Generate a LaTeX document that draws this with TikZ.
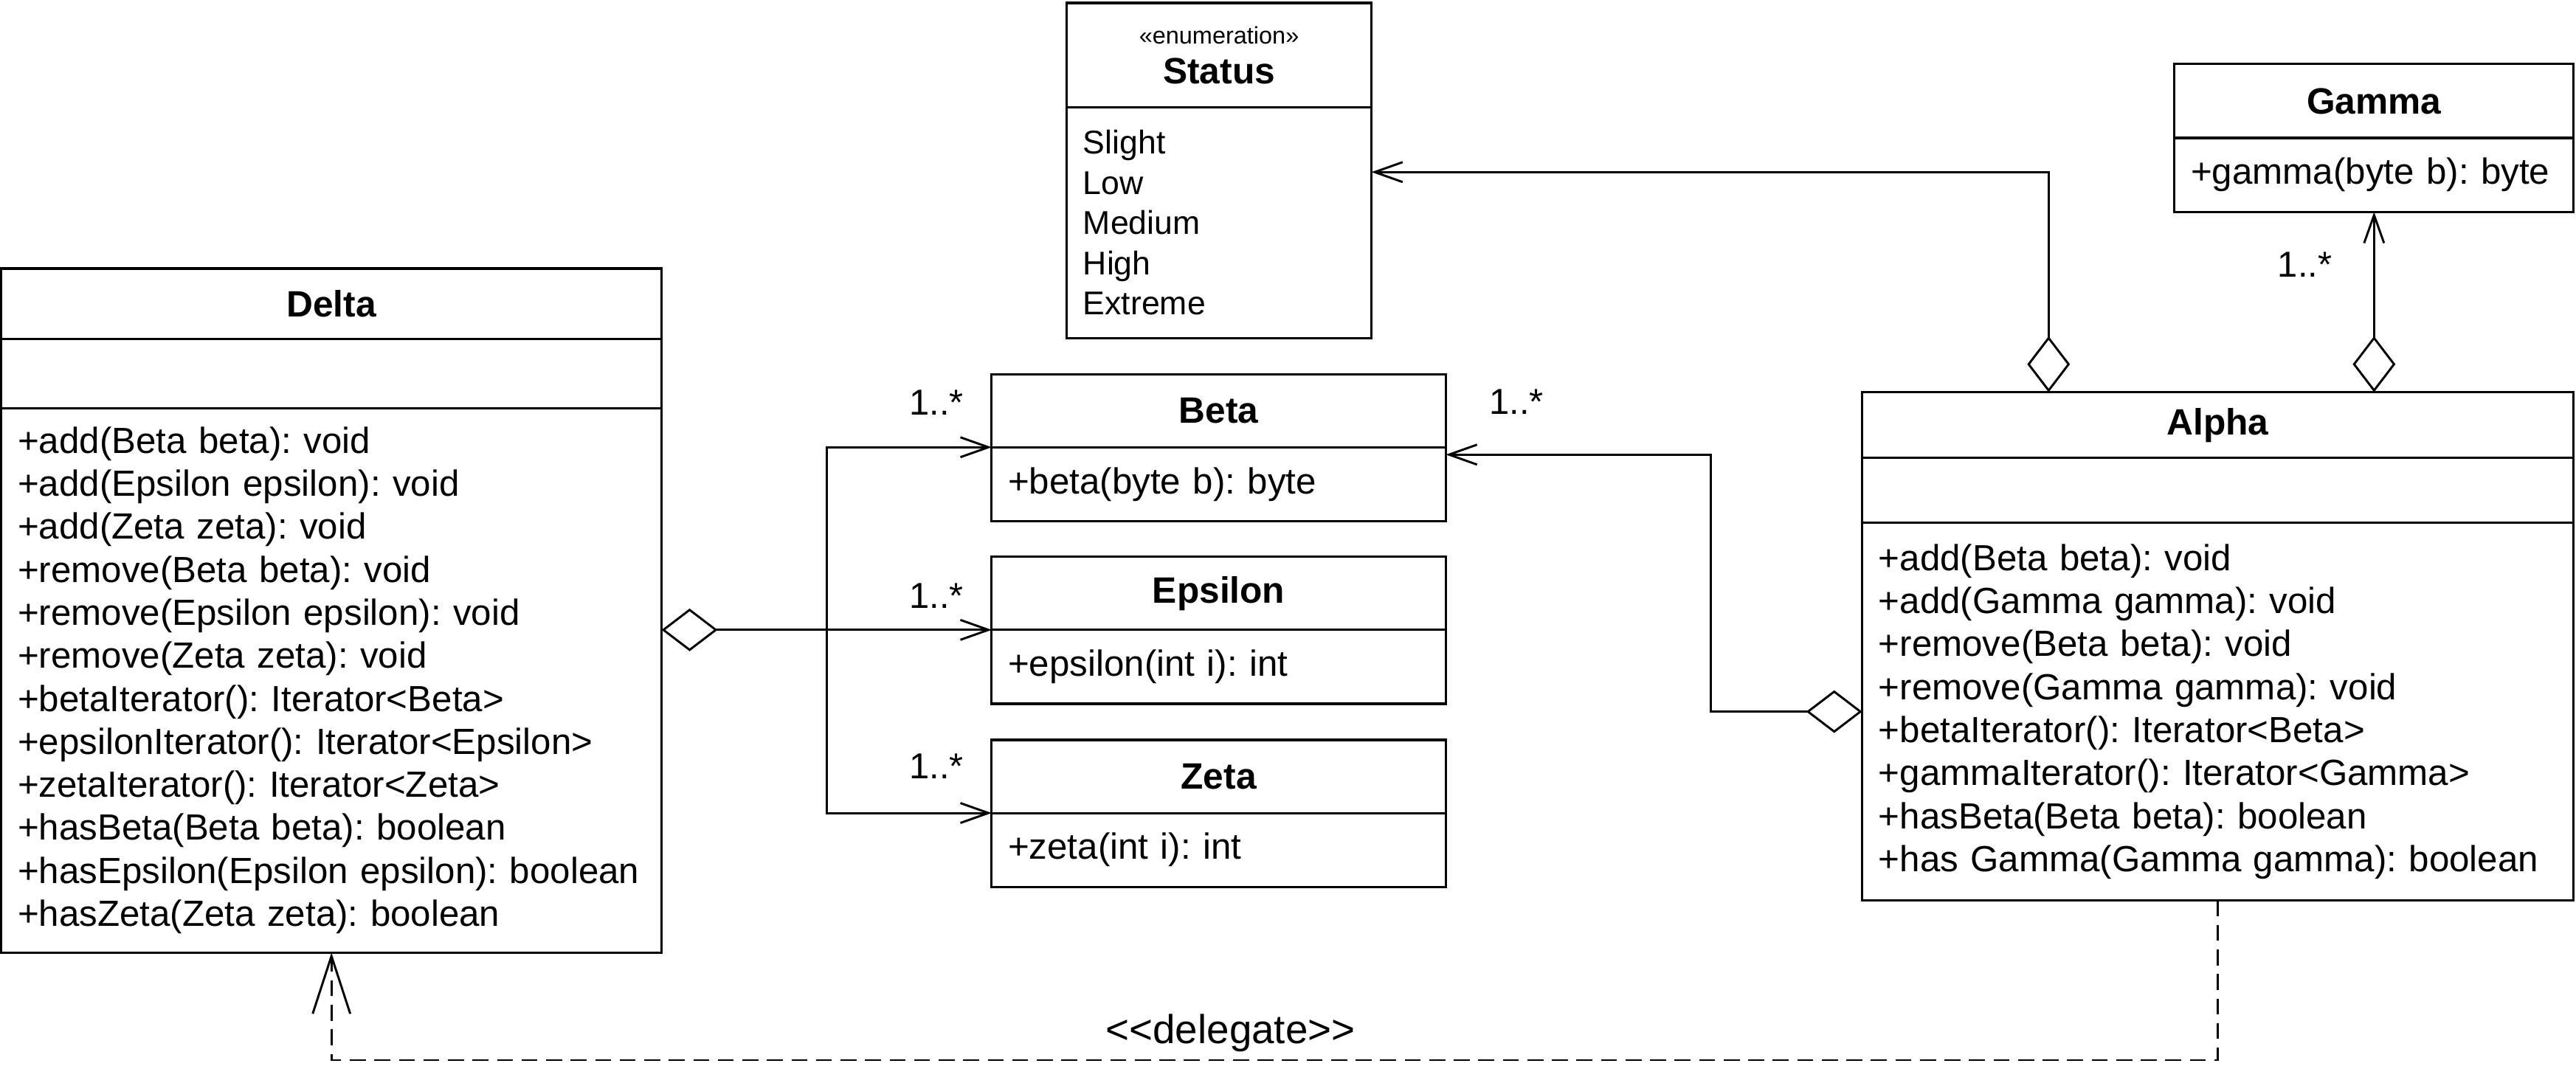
\documentclass[tikz,border=0pt]{standalone}
\usepackage{fontspec}
\setmainfont{Liberation Sans}
\usepackage{xcolor}
\usetikzlibrary{arrows.meta,calc,positioning}
\definecolor{umlline}{RGB}{0,0,0}
\definecolor{umlbg}{RGB}{255,255,255}
\frenchspacing

\begin{document}
\begin{tikzpicture}[
    x=0.02cm, y=-0.02cm,
    >={Straight Barb[length=9.7pt, width=6.9pt]},
    classhead/.style={draw=umlline, fill=umlbg, line width=0.8pt, outer sep=0pt, inner sep=0pt, align=center, font=\fontsize{12.7}{13.9}\selectfont\bfseries},
    classpart/.style={draw=umlline, fill=umlbg, line width=0.8pt, outer sep=0pt, inner sep=0pt},
    classbody/.style={draw=umlline, fill=umlbg, line width=0.8pt, outer sep=0pt, inner xsep=0.2cm, inner ysep=0pt, align=left, font=\fontsize{12.6}{14.9}\selectfont},
    aggr/.style={draw=umlline, line width=0.75pt, {Diamond[open, length=19.4pt, width=14.8pt]}->},
    assoc/.style={draw=umlline, line width=0.75pt, ->},
    dep/.style={draw=umlline, line width=0.75pt, dash pattern=on 5.5pt off 3pt, -{Straight Barb[length=20pt, width=13pt]}},
    mult/.style={inner sep=0pt, font=\fontsize{12.5}{14}\selectfont}
]

% Background
\fill[umlbg] (0,0) rectangle (1568,649);
\useasboundingbox (0,0) rectangle (1568,649);

% 1. CLASSES
% Delta
\node[classhead, minimum width=8.04cm, minimum height=0.86cm, anchor=north west] (deltahead) at (0.8,163.5) {Delta};
\node[classpart, minimum width=8.04cm, minimum height=0.84cm, below=0pt of deltahead] (deltaattr) {};
\node[classbody, text width=7.64cm, minimum height=6.63cm, below=0pt of deltaattr] (deltabody) {+add(Beta beta): void\\
    +add(Epsilon epsilon): void\\
    +add(Zeta zeta): void\\
    +remove(Beta beta): void\\
    +remove(Epsilon epsilon): void\\
    +remove(Zeta zeta): void\\
    +betaIterator(): Iterator<Beta>\\
    +epsilonIterator(): Iterator<Epsilon>\\
    +zetaIterator(): Iterator<Zeta>\\
    +hasBeta(Beta beta): boolean\\
    +hasEpsilon(Epsilon epsilon): boolean\\
    +hasZeta(Zeta zeta): boolean};

% Beta, Epsilon, Zeta
\node[classhead, minimum width=5.53cm, minimum height=0.89cm, anchor=north west] (betahead) at (603.6,227.8) {Beta};
\node[classbody, text width=5.13cm, minimum height=0.9cm, below=0pt of betahead] (betabody) {+beta(byte b): byte};

\node[classhead, minimum width=5.53cm, minimum height=0.89cm, anchor=north west] (epshead) at (603.6,339) {Epsilon};
\node[classbody, text width=5.13cm, minimum height=0.9cm, below=0pt of epshead] (epsbody) {+epsilon(int i): int};

\node[classhead, minimum width=5.53cm, minimum height=0.89cm, anchor=north west] (zetahead) at (603.6,450.5) {Zeta};
\node[classbody, text width=5.13cm, minimum height=0.9cm, below=0pt of zetahead] (zetabody) {+zeta(int i): int};

% Status (enumeration)
\node[classhead, minimum width=3.71cm, minimum height=1.27cm, anchor=north west] (statushead) at (649.3,1.8) {{\fontsize{8.3}{10}\mdseries\selectfont «enumeration»}\\Status};
\node[classbody, text width=3.31cm, minimum height=2.81cm, below=0pt of statushead, font=\fontsize{11.4}{13.9}\selectfont] (statusbody) {Slight\\
    Low\\
    Medium\\
    High\\
    Extreme};

% Gamma
\node[classhead, minimum width=4.86cm, minimum height=0.9cm, anchor=north west] (gammahead) at (1323.6,39) {Gamma};
\node[classbody, text width=4.46cm, minimum height=0.9cm, below=0pt of gammahead] (gammabody) {+gamma(byte b): byte};

% Alpha
\node[classhead, minimum width=8.66cm, minimum height=0.8cm, anchor=north west] (alphahead) at (1133.5,238.8) {Alpha};
\node[classpart, minimum width=8.66cm, minimum height=0.79cm, below=0pt of alphahead] (alphaattr) {};
\node[classbody, text width=8.26cm, minimum height=4.6cm, below=0pt of alphaattr] (alphabody) {+add(Beta beta): void\\
    +add(Gamma gamma): void\\
    +remove(Beta beta): void\\
    +remove(Gamma gamma): void\\
    +betaIterator(): Iterator<Beta>\\
    +gammaIterator(): Iterator<Gamma>\\
    +hasBeta(Beta beta): boolean\\
    +has Gamma(Gamma gamma): boolean};

% 2. RELATIONS
% Delta aggregates Beta, Epsilon, Zeta
\draw[aggr] (deltabody.east |- epsbody.north west) -- (epsbody.north west);
\coordinate (fork) at ($(deltabody.east |- epsbody.north west)!0.5!(epsbody.north west)$);
\draw[assoc] (fork) |- (betabody.north west);
\draw[assoc] (fork) |- (zetabody.north west);

% Alpha aggregates Beta, Status, Gamma
\draw[aggr] (alphabody.west) -- ++(-92,0) |- ([yshift=-0.09cm]betabody.north east);
\draw[aggr] ([xshift=2.27cm]alphahead.north west) |- ([yshift=-0.79cm]statusbody.north east);
\draw[aggr] (alphahead.north -| gammabody.south) -- (gammabody.south);

% Delegation
\draw[dep] (alphabody.south) -- ++(0,97.2) -| (deltabody.south);

% 3. LABELS
\node[mult] (multbeta) at (570,245) {1..*};
\node[mult] (multeps) at (570,362.8) {1..*};
\node[mult] (multzeta) at (570,466.4) {1..*};
\node[mult] (multalpha) at (923,244.6) {1..*};
\node[mult] (multgamma) at (1403,161) {1..*};
\node[inner sep=0pt, font=\fontsize{14}{16}\selectfont] (delegate) at (749,629) {<\kern0pt<delegate>\kern0pt>};

\end{tikzpicture}
\end{document}
